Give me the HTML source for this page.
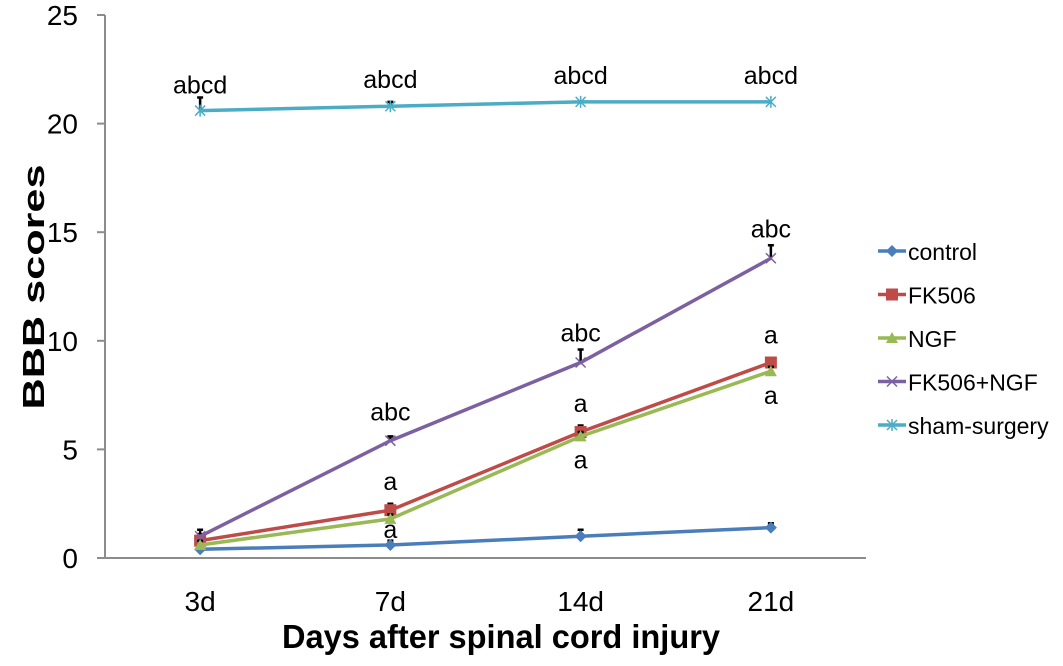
<!DOCTYPE html>
<html><head><meta charset="utf-8">
<style>
body{margin:0;background:#fff;}
svg text{font-family:"Liberation Sans",sans-serif;}
</style></head>
<body>
<svg id="chart" width="1063" height="661" xmlns="http://www.w3.org/2000/svg">
<g id="axes"></g>
<g id="series"></g>
<g id="legend"></g>
<text transform="translate(44,287) rotate(-90)" text-anchor="middle" font-size="31" font-weight="bold" textLength="245" lengthAdjust="spacingAndGlyphs">BBB scores</text>
<text x="501" y="648" text-anchor="middle" font-size="33" font-weight="bold" textLength="438" lengthAdjust="spacingAndGlyphs">Days after spinal cord injury</text>
</svg>
<script>
const categories = ["3d","7d","14d","21d"];
const yTicks = [0,5,10,15,20,25];
const seriesNames = ["control","FK506","NGF","FK506+NGF","sham-surgery"];
const controlVals = [0.4,0.6,1.0,1.4];
const fk506Vals = [0.8,2.2,5.8,9.0];
const ngfVals = [0.6,1.8,5.6,8.6];
const comboVals = [1.0,5.4,9.0,13.8];
const shamVals = [20.6,20.8,21.0,21.0];
const controlErr = [0.2,0.2,0.3,0.2];
const fk506Err = [0.3,0.3,0.3,0.2];
const ngfErr = [0.2,0.2,0.2,0.2];
const comboErr = [0.3,0.2,0.6,0.6];
const shamErr = [0.6,0.2,0,0];
const shamLabels = ["abcd","abcd","abcd","abcd"];
const comboLabels = ["","abc","abc","abc"];
const fkLabels = ["","a","a","a"];
const ngfLabels = ["","a","a","a"];

const NS="http://www.w3.org/2000/svg";
const L=105,R=866,T=15,B=558;
const band=(R-L)/categories.length;
const x=i=>L+band*(i+0.5);
const y=v=>B-(v/25)*(B-T);
function mk(tag,attrs,parent){const e=document.createElementNS(NS,tag);for(const k in attrs)e.setAttribute(k,attrs[k]);parent.appendChild(e);return e;}
const axes=document.getElementById('axes'),ser=document.getElementById('series'),leg=document.getElementById('legend');

let ya=mk('line',{x1:L,y1:T,x2:L,y2:B,stroke:'#8c8c8c','stroke-width':2},axes);


let xa=mk('line',{x1:L,y1:B,x2:R,y2:B,stroke:'#8c8c8c','stroke-width':2},axes);


yTicks.forEach(t=>{
  let tk=mk('line',{x1:L-8,y1:y(t),x2:L,y2:y(t),stroke:'#8c8c8c','stroke-width':2},axes);
  
  
  let tl=mk('text',{x:78,y:y(t)+10,'text-anchor':'end','font-size':28},axes);
  
  
  tl.textContent=t;
});
categories.forEach((c,i)=>{
  let tl=mk('text',{x:x(i),y:611,'text-anchor':'middle','font-size':28},axes);
  
  
  tl.textContent=c;
});

const colors=['#4a7ebb','#be4b48','#98b954','#7d60a0','#4bacc6'];
const allVals=[controlVals,fk506Vals,ngfVals,comboVals,shamVals];
const allErr=[controlErr,fk506Err,ngfErr,comboErr,shamErr];
function marker(k,cx,cy,g){
  const c=colors[k];
  if(k===0) mk('path',{d:`M${cx} ${cy-6}L${cx+6} ${cy}L${cx} ${cy+6}L${cx-6} ${cy}Z`,fill:c},g);
  else if(k===1) mk('rect',{x:cx-6,y:cy-6,width:12,height:12,fill:c},g);
  else if(k===2) mk('path',{d:`M${cx} ${cy-6}L${cx+6} ${cy+5}L${cx-6} ${cy+5}Z`,fill:c},g);
  else if(k===3) mk('path',{d:`M${cx-5} ${cy-5}L${cx+5} ${cy+5}M${cx+5} ${cy-5}L${cx-5} ${cy+5}`,stroke:c,'stroke-width':1.5},g);
  else mk('path',{d:`M${cx-5} ${cy-5}L${cx+5} ${cy+5}M${cx+5} ${cy-5}L${cx-5} ${cy+5}M${cx} ${cy-6}L${cx} ${cy+6}`,stroke:c,'stroke-width':1.5},g);
}
allVals.forEach((vals,k)=>{
  const g=mk('g',{},ser);
  
  
  vals.forEach((v,i)=>{
    const e=allErr[k][i];
    if(e>0){
      let eb=mk('path',{d:`M${x(i)} ${y(v)}L${x(i)} ${y(v+e)}M${x(i)-3} ${y(v+e)}L${x(i)+3} ${y(v+e)}`,stroke:'#000','stroke-width':2.5},g);
      
      
    }
  });
  let p=mk('polyline',{points:vals.map((v,i)=>x(i)+','+y(v)).join(' '),fill:'none',stroke:colors[k],'stroke-width':3.5},g);
  
  
  vals.forEach((v,i)=>marker(k,x(i),y(v),g));
});
function annot(labels,vals,dys){
  labels.forEach((s,i)=>{ if(!s)return;
    let t=mk('text',{x:x(i),y:y(vals[i])+dys[i],'text-anchor':'middle','font-size':25},ser);
    
    
    t.textContent=s;});
}
annot(shamLabels,shamVals,[-17,-18,-18,-18]);
annot(comboLabels,comboVals,[0,-20,-21,-21]);
annot(fkLabels,fk506Vals,[0,-20,-20,-19]);
annot(ngfLabels,ngfVals,[0,19,32,33]);

seriesNames.forEach((n,k)=>{
  const yy=251+k*43.5;
  const g=mk('g',{},leg);
  
  
  mk('line',{x1:878,y1:yy,x2:906,y2:yy,stroke:colors[k],'stroke-width':3.5},g);
  marker(k,892,yy,g);
  let t=mk('text',{x:908,y:yy+9,'font-size':23},g);
  t.textContent=n;
});
</script>
</body></html>
